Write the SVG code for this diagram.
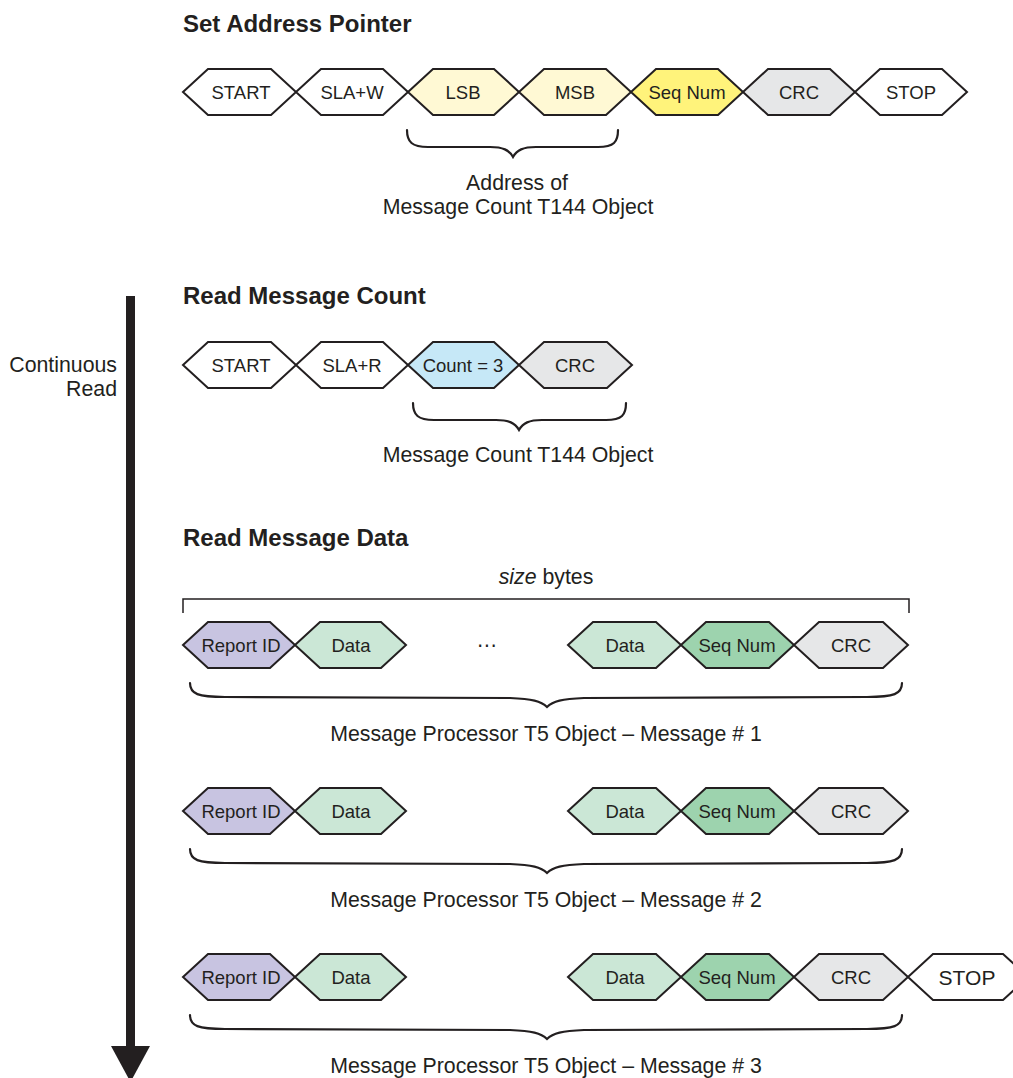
<svg xmlns="http://www.w3.org/2000/svg" width="1013" height="1078" viewBox="0 0 1013 1078">
<style>
text{font-family:"Liberation Sans",Arial,Helvetica,sans-serif;fill:#231F20}
.title{font-size:24px;font-weight:bold}
.lbl{font-size:18.5px;text-anchor:middle}
.cap{font-size:21.3px;text-anchor:middle}
.hex{stroke:#231F20;stroke-width:2;stroke-linejoin:miter}
.w{fill:#FFFFFF}
.pale{fill:#FFF9D4}
.yel{fill:#FFF37B}
.gray{fill:#E6E7E8}
.blue{fill:#C6E8F7}
.pur{fill:#C8C4E1}
.dat{fill:#CBE7D6}
.seq{fill:#9DD3AE}
.brace{fill:none;stroke:#231F20;stroke-width:2.2;stroke-linecap:round}
</style>
<rect width="1013" height="1078" fill="#FFFFFF"/>

<!-- Titles and side labels -->
<text class="title" x="183" y="32">Set Address Pointer</text>
<text class="title" x="183" y="304">Read Message Count</text>
<text class="title" x="183" y="546">Read Message Data</text>
<text class="cap" x="117" y="372" style="text-anchor:end">Continuous</text>
<text class="cap" x="117" y="396" style="text-anchor:end">Read</text>

<!-- Row 1 -->
<g id="r1-start"><polygon class="hex w" points="183,92 208,69 271,69 296,92 271,115 208,115"/><text class="lbl" x="241" y="99">START</text></g>
<g id="r1-slaw"><polygon class="hex w" points="296,92 321,69 383,69 408,92 383,115 321,115"/><text class="lbl" x="352" y="99">SLA+W</text></g>
<g id="r1-lsb"><polygon class="hex pale" points="408,92 433,69 494,69 519,92 494,115 433,115"/><text class="lbl" x="463" y="99">LSB</text></g>
<g id="r1-msb"><polygon class="hex pale" points="519,92 544,69 606,69 631,92 606,115 544,115"/><text class="lbl" x="575" y="99">MSB</text></g>
<g id="r1-seq"><polygon class="hex yel" points="631,92 656,69 718,69 743,92 718,115 656,115"/><text class="lbl" x="687" y="99">Seq Num</text></g>
<g id="r1-crc"><polygon class="hex gray" points="743,92 768,69 830,69 855,92 830,115 768,115"/><text class="lbl" x="799" y="99">CRC</text></g>
<g id="r1-stop"><polygon class="hex w" points="855,92 880,69 942,69 967,92 942,115 880,115"/><text class="lbl" x="911" y="99">STOP</text></g>

<!-- Row 2 -->
<g id="r2-start"><polygon class="hex w" points="183,365 208,342 271,342 296,365 271,388 208,388"/><text class="lbl" x="241" y="372">START</text></g>
<g id="r2-slar"><polygon class="hex w" points="296,365 321,342 383,342 408,365 383,388 321,388"/><text class="lbl" x="352" y="372">SLA+R</text></g>
<g id="r2-count"><polygon class="hex blue" points="408,365 433,342 494,342 519,365 494,388 433,388"/><text class="lbl" x="463" y="372">Count = 3</text></g>
<g id="r2-crc"><polygon class="hex gray" points="519,365 544,342 607,342 632,365 607,388 544,388"/><text class="lbl" x="575" y="372">CRC</text></g>

<!-- Row 3 -->
<g id="r3-rid"><polygon class="hex pur" points="183,645 208,622 270,622 295,645 270,668 208,668"/><text class="lbl" x="241" y="652">Report ID</text></g>
<g id="r3-data1"><polygon class="hex dat" points="295,645 320,622 381,622 406,645 381,668 320,668"/><text class="lbl" x="351" y="652">Data</text></g>
<g id="r3-dots"><text class="cap" x="487" y="647">…</text></g>
<g id="r3-data2"><polygon class="hex dat" points="568,645 593,622 656,622 681,645 656,668 593,668"/><text class="lbl" x="625" y="652">Data</text></g>
<g id="r3-seq"><polygon class="hex seq" points="681,645 706,622 769,622 794,645 769,668 706,668"/><text class="lbl" x="737" y="652">Seq Num</text></g>
<g id="r3-crc"><polygon class="hex gray" points="794,645 819,622 883,622 908,645 883,668 819,668"/><text class="lbl" x="851" y="652">CRC</text></g>

<!-- Row 4 -->
<g id="r4-rid"><polygon class="hex pur" points="183,811 208,788 270,788 295,811 270,834 208,834"/><text class="lbl" x="241" y="818">Report ID</text></g>
<g id="r4-data1"><polygon class="hex dat" points="295,811 320,788 381,788 406,811 381,834 320,834"/><text class="lbl" x="351" y="818">Data</text></g>
<g id="r4-data2"><polygon class="hex dat" points="568,811 593,788 656,788 681,811 656,834 593,834"/><text class="lbl" x="625" y="818">Data</text></g>
<g id="r4-seq"><polygon class="hex seq" points="681,811 706,788 769,788 794,811 769,834 706,834"/><text class="lbl" x="737" y="818">Seq Num</text></g>
<g id="r4-crc"><polygon class="hex gray" points="794,811 819,788 883,788 908,811 883,834 819,834"/><text class="lbl" x="851" y="818">CRC</text></g>

<!-- Row 5 -->
<g id="r5-rid"><polygon class="hex pur" points="183,977 208,954 270,954 295,977 270,1000 208,1000"/><text class="lbl" x="241" y="984">Report ID</text></g>
<g id="r5-data1"><polygon class="hex dat" points="295,977 320,954 381,954 406,977 381,1000 320,1000"/><text class="lbl" x="351" y="984">Data</text></g>
<g id="r5-data2"><polygon class="hex dat" points="568,977 593,954 656,954 681,977 656,1000 593,1000"/><text class="lbl" x="625" y="984">Data</text></g>
<g id="r5-seq"><polygon class="hex seq" points="681,977 706,954 769,954 794,977 769,1000 706,1000"/><text class="lbl" x="737" y="984">Seq Num</text></g>
<g id="r5-crc"><polygon class="hex gray" points="794,977 819,954 883,954 908,977 883,1000 819,1000"/><text class="lbl" x="851" y="984">CRC</text></g>
<g id="r5-stop"><polygon class="hex w" points="908,977 933,954 1003,954 1028,977 1003,1000 933,1000"/><text class="lbl" x="967" y="985" style="font-size:21px">STOP</text></g>

<!-- Connectors: braces, bracket, arrow -->
<g id="connectors">
<path class="brace" d="M407,130 C407,142 412,147 428,147 L490,147 C503,147 509,150 513,157 C517,150 523,147 536,147 L598,147 C614,147 618,142 618,130"/>
<path class="brace" d="M413,403 C413,415 418,420 434,420 L496,420 C509,420 515,423 519,430 C523,423 529,420 542,420 L606,420 C622,420 626,415 626,403"/>
<path class="brace" d="M190,683 C190,694 198,697 225,697 L510,698 C532,699 541,701 547,707 C553,701 562,699 584,698 L867,697 C894,697 902,694 902,683"/>
<path class="brace" d="M190,849 C190,860 198,863 225,863 L510,864 C532,865 541,867 547,873 C553,867 562,865 584,864 L867,863 C894,863 902,860 902,849"/>
<path class="brace" d="M190,1015 C190,1026 198,1029 225,1029 L510,1030 C532,1031 541,1033 547,1039 C553,1033 562,1031 584,1030 L867,1029 C894,1029 902,1026 902,1015"/>
<path d="M183,613 V599 H909 V613" fill="none" stroke="#231F20" stroke-width="1.5"/>
<rect x="126" y="296" width="9" height="752" fill="#231F20"/>
<polygon points="111,1046 150,1046 130.5,1082" fill="#231F20"/>
</g>

<!-- Captions -->
<text class="cap" x="517" y="190">Address of</text>
<text class="cap" x="518" y="214">Message Count T144 Object</text>
<text class="cap" x="518" y="462">Message Count T144 Object</text>
<text class="cap" x="546" y="584"><tspan font-style="italic">size</tspan> bytes</text>
<text class="cap" x="546" y="741">Message Processor T5 Object – Message # 1</text>
<text class="cap" x="546" y="907">Message Processor T5 Object – Message # 2</text>
<text class="cap" x="546" y="1073">Message Processor T5 Object – Message # 3</text>
</svg>
